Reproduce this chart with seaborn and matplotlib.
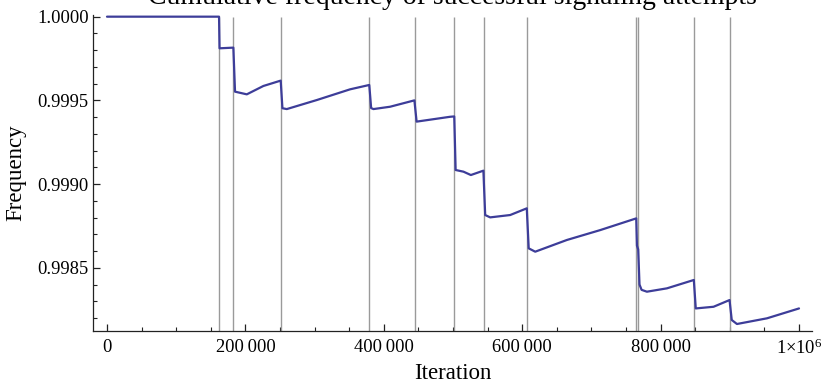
import matplotlib
matplotlib.use("Agg")
import matplotlib.pyplot as plt
import matplotlib.ticker as mticker
import seaborn as sns
import pandas as pd

# Cumulative success frequency sampled along the run (iteration, frequency)
iterations = [0, 161900, 162600, 182600, 185000, 202000, 226000, 251000,
              253500, 259800, 303200, 351300, 379000,
              381700, 385000, 409100, 444200,
              447400, 495900, 501800,
              503800, 515100, 525800, 543900,
              546500, 553700, 582600, 606600,
              609400, 618800, 664600, 712700, 764800,
              765800, 767600, 769500, 772500, 780200, 809100, 848000,
              850800, 876500, 899600,
              902800, 910300, 953700, 1000000]
frequency = [1.0, 1.0, 0.999811, 0.999815, 0.999552, 0.999536, 0.999586, 0.999618,
             0.999453, 0.999448, 0.999502, 0.999566, 0.999592,
             0.999454, 0.999448, 0.999462, 0.999500,
             0.999373, 0.999402, 0.999404,
             0.999084, 0.999074, 0.999054, 0.999080,
             0.998815, 0.998801, 0.998815, 0.998855,
             0.998616, 0.998596, 0.998666, 0.998725, 0.998795,
             0.998632, 0.998610, 0.998400, 0.998368, 0.998357, 0.998377, 0.998427,
             0.998257, 0.998267, 0.998307,
             0.998188, 0.998164, 0.998198, 0.998257]

# Iterations at which a failure event occurred
events = [161900, 182600, 251400, 379000, 444400, 501900, 544400, 606900,
          764900, 767300, 848300, 899900]

# Axis ticks
x_major = [0, 200000, 400000, 600000, 800000, 1000000]
x_labels = ["0", "200\u2009000", "400\u2009000", "600\u2009000", "800\u2009000",
            r"1$\times$10$^{6}$"]
y_major = [0.9985, 0.9990, 0.9995, 1.0000]
y_labels = ["0.9985", "0.9990", "0.9995", "1.0000"]

sns.set_theme(style="ticks")
plt.rcParams["font.family"] = ["Liberation Serif", "DejaVu Serif"]
plt.rcParams["mathtext.fontset"] = "custom"
plt.rcParams["mathtext.rm"] = "Liberation Serif"
plt.rcParams["mathtext.it"] = "Liberation Serif:italic"

df = pd.DataFrame({"Iteration": iterations, "Frequency": frequency})

fig = plt.figure(figsize=(8.24, 3.84), dpi=100)
ax = fig.add_axes([92.7 / 824, 53.3 / 384, (812.3 - 92.7) / 824, (330.7 - 15) / 384])

ymin, ymax = 0.998124, 1.00001
ax.set_xlim(-20670, 1019200)
ax.set_ylim(ymin, ymax)

ax.vlines(events, ymin, 1.0, colors="#9a9a9a", linewidth=1.0, zorder=1)
sns.lineplot(data=df, x="Iteration", y="Frequency", ax=ax, color="#3d3d99",
             linewidth=1.6, sort=False, estimator=None, zorder=3)

axis_col = "#222222"
for side in ["top", "right"]:
    ax.spines[side].set_visible(False)
for side in ["left", "bottom"]:
    ax.spines[side].set_color(axis_col)
    ax.spines[side].set_linewidth(0.9)

ax.set_xticks(x_major)
ax.set_xticklabels(x_labels)
ax.xaxis.set_minor_locator(mticker.MultipleLocator(50000))
ax.set_yticks(y_major)
ax.set_yticklabels(y_labels)
ax.yaxis.set_minor_locator(mticker.MultipleLocator(0.0001))

ax.tick_params(axis="both", which="major", direction="in", length=5, width=0.9,
               color=axis_col, labelsize=13.3, labelcolor="black")
ax.tick_params(axis="both", which="minor", direction="in", length=3, width=0.8,
               color=axis_col)
ax.tick_params(axis="x", which="major", pad=6)
ax.tick_params(axis="y", which="major", pad=3)

ax.set_xlabel("Iteration", fontsize=16.5, color="black", labelpad=3)
ax.set_ylabel("Frequency", fontsize=16.5, color="black", labelpad=8)

fig.text(452.5 / 824, 1 - 4 / 384, "Cumulative frequency of successful signaling attempts",
         ha="center", va="baseline", fontsize=20, color="black")

fig.savefig("out.png", dpi=100)
